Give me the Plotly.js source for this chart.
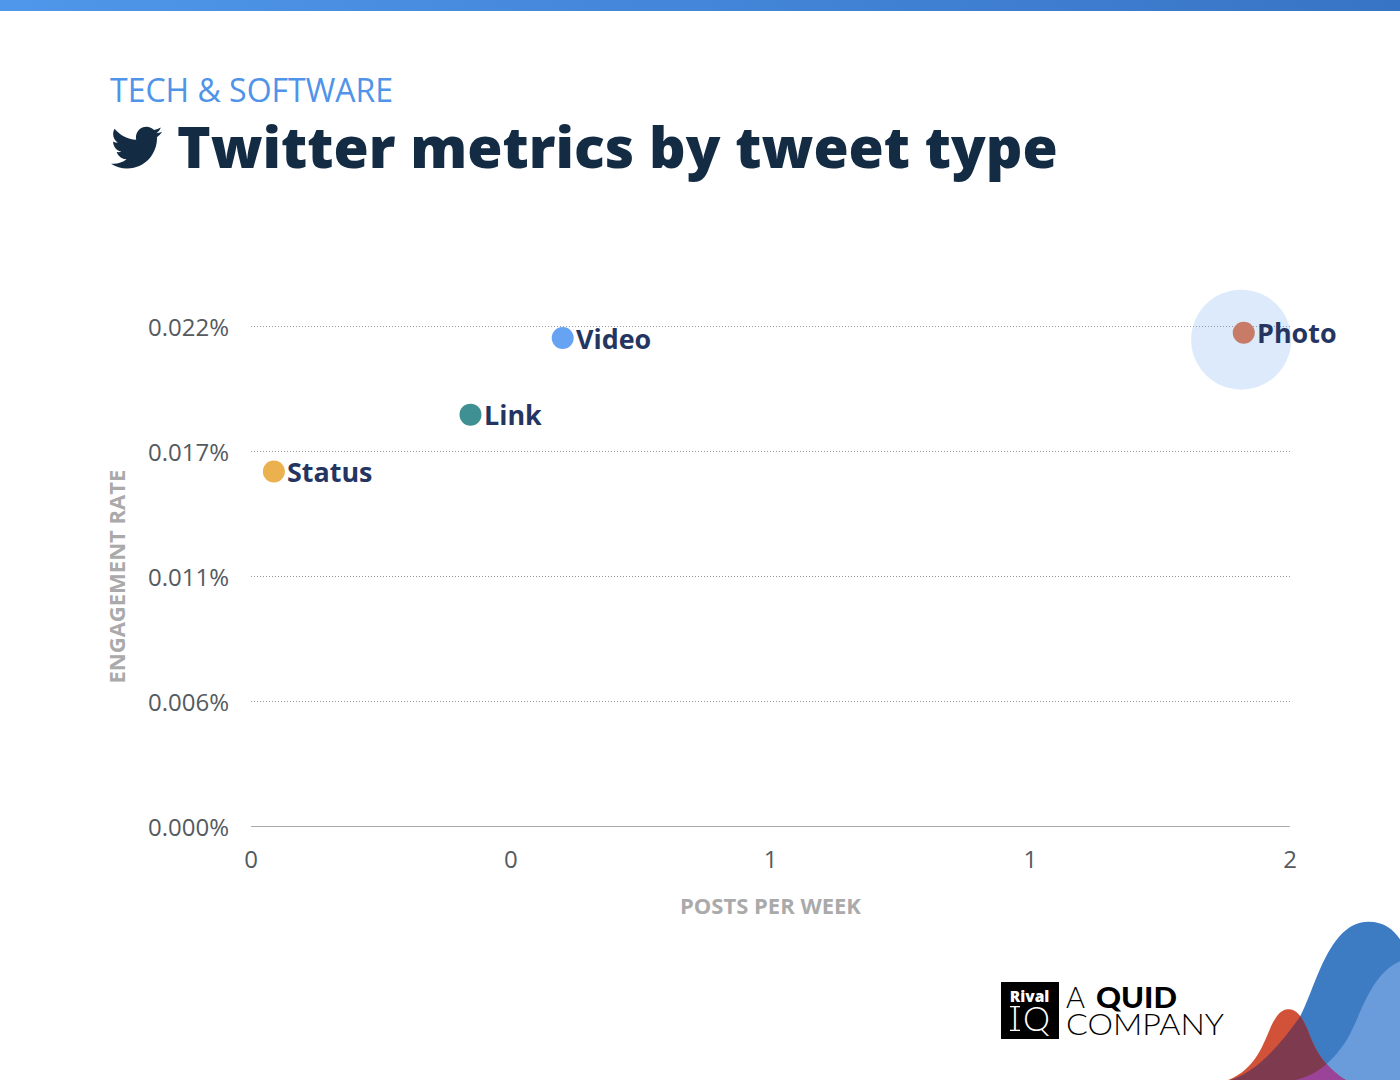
<!DOCTYPE html>
<html>
<head>
<meta charset="utf-8">
<script src="https://cdn.plot.ly/plotly-3.0.1.min.js"></script>
<style>
html,body{margin:0;padding:0;background:#fff;width:1400px;height:1080px;overflow:hidden}
#band{position:absolute;left:0;top:0;width:1400px;height:11px;background:linear-gradient(90deg,#4f97ea,#3874c6)}
#deco{position:absolute;left:0;top:0}
#chart{position:absolute;left:0;top:0;width:1400px;height:1080px}
</style>
</head>
<body>
<div id="band"></div>
<svg id="deco" width="1400" height="1080" viewBox="0 0 1400 1080">
  <defs>
    <path id="pBlue" d="M690 540C760 520 830 450 900 350C945 270 985 65 1105 65C1180 65 1200 120 1230 165L1230 540Z"/>
    <path id="pLight" d="M860 545C930 535 985 505 1040 420C1085 345 1110 215 1210 180L1230 175L1230 545Z"/>
    <path id="pRed" d="M685 540C770 505 790 430 815 375C835 335 850 328 868 328C900 328 920 380 935 420C960 480 1000 520 1045 545L685 545Z"/>
    <clipPath id="cBlue"><use href="#pBlue"/></clipPath>
    <clipPath id="cLight"><use href="#pLight"/></clipPath>
  </defs>
  <path transform="translate(111,122) scale(0.1)" fill="#132b43" d="M459.37 151.716c.325 4.548.325 9.097.325 13.645 0 138.72-105.583 298.558-298.558 298.558-59.452 0-114.68-17.219-161.137-47.106 8.447.974 16.568 1.299 25.34 1.299 49.055 0 94.213-16.568 130.274-44.832-46.132-.975-84.792-31.188-98.112-72.772 6.498.974 12.995 1.624 19.818 1.624 9.421 0 18.843-1.3 27.614-3.573-48.081-9.747-84.143-51.98-84.143-102.985v-1.299c13.969 7.797 30.214 12.67 47.431 13.319-28.264-18.843-46.781-51.005-46.781-87.391 0-19.492 5.197-37.36 14.294-52.954 51.655 63.675 129.3 105.258 216.365 109.807-1.624-7.797-2.599-15.918-2.599-24.04 0-57.828 46.782-104.934 104.934-104.934 30.213 0 57.502 12.67 76.67 33.137 23.715-4.548 46.456-13.32 66.599-25.34-7.798 24.366-24.366 44.833-46.132 57.827 21.117-2.273 41.584-8.122 60.426-16.243-14.292 20.791-32.161 39.308-52.628 54.253z"/>
  <rect x="1001" y="982" width="58" height="57" fill="#000"/>
  <text x="1029.5" y="1002" text-anchor="middle" font-family="Open Sans" font-weight="800" font-size="15.5" fill="#fff">Rival</text>
  <text x="1015" y="1031" text-anchor="middle" font-family="Lato" font-weight="300" font-size="34" fill="#fff">I</text>
  <rect x="1010" y="1006" width="10" height="1.3" fill="#fff"/>
  <rect x="1010" y="1029.7" width="10" height="1.3" fill="#fff"/>
  <text x="1023" y="1031" font-family="Lato" font-weight="300" font-size="34" fill="#fff" textLength="27" lengthAdjust="spacingAndGlyphs">Q</text>
  <text x="1066" y="1007.5" font-family="Lato" font-size="29" fill="#000" font-weight="300">A</text>
  <text x="1096" y="1007.5" font-family="Lato" font-size="29" fill="#000" font-weight="900" textLength="81" lengthAdjust="spacingAndGlyphs">QUID</text>
  <text x="1066" y="1035" font-family="Lato" font-size="29" fill="#000" font-weight="300" textLength="158" lengthAdjust="spacingAndGlyphs">COMPANY</text>
  <g transform="translate(1000,900) scale(0.33333)">
    <use href="#pBlue" fill="#3d7cc3"/>
    <use href="#pLight" fill="#6a9bdb"/>
    <use href="#pRed" fill="#d15238"/>
    <g clip-path="url(#cBlue)"><use href="#pRed" fill="#7e3b4f"/></g>
    <g clip-path="url(#cLight)"><use href="#pRed" fill="#9b4399"/></g>
  </g>
</svg>
<div id="chart"></div>
<script>
const categories = ["Status", "Link", "Video", "Photo"];
const postsPerWeek = [0.044, 0.4225, 0.6, 1.911];
const engagementRate = [0.0156, 0.0181, 0.02147, 0.0217];
const pointColors = ["#ecb14f", "#3f9092", "#66a3f2", "#c87b66"];
const haloX = [1.906];
const haloY = [0.0214];
const xTickVals = [0, 0.5, 1, 1.5, 2];
const xTickText = ["0", "0", "1", "1", "2"];
const yTickVals = [0, 0.0055, 0.011, 0.0165, 0.022];
const yTickText = ["0.000%", "0.006%", "0.011%", "0.017%", "0.022%"];

const W = 1400, H = 1080, L = 251, R = 110, T = 301, B = 254;
const px = x => (x - L) / (W - L - R);
const py = y => 1 - (y - T) / (H - T - B);

const traces = [
  {type: "scatter", mode: "markers", x: haloX, y: haloY, cliponaxis: false, hoverinfo: "skip",
   marker: {size: 100, color: "rgba(102,163,242,0.23)", line: {width: 0}}},
  {type: "scatter", mode: "markers", x: postsPerWeek, y: engagementRate,
   cliponaxis: false,
   marker: {size: 22, color: pointColors, line: {width: 0}}}
];

const labelAnnotations = categories.map((c, i) => ({
  x: postsPerWeek[i], y: engagementRate[i], xref: "x", yref: "y",
  text: c, showarrow: false, xanchor: "left", yanchor: "middle", xshift: 11.5, yshift: 0,
  font: {family: "Open Sans", size: 26.9, color: "#253561", weight: 700}
}));

const layout = {
  width: W, height: H, showlegend: false,
  margin: {l: L, r: R, t: T, b: B, pad: 0},
  paper_bgcolor: "rgba(0,0,0,0)", plot_bgcolor: "rgba(0,0,0,0)",
  font: {family: "Open Sans", color: "#555a60"},
  xaxis: {
    range: [0, 2], tickmode: "array", tickvals: xTickVals, ticktext: xTickText,
    showgrid: false, zeroline: false, showline: true, linecolor: "#aaaaaa", linewidth: 1,
    ticks: "", ticklabelstandoff: 12, tickfont: {size: 24, color: "#555a60"},
    title: {text: "POSTS PER WEEK", standoff: 24, font: {family: "Open Sans", size: 22, color: "#aaaaaa", weight: 700}}
  },
  yaxis: {
    range: [0, 0.0231], tickmode: "array", tickvals: yTickVals, ticktext: yTickText,
    showgrid: true, gridcolor: "#999999", griddash: "1px,2px", gridwidth: 1,
    zeroline: false, showline: false,
    ticks: "", ticklabelstandoff: 21, ticklabelshift: 2, tickfont: {size: 24, color: "#555a60"}
  },
  annotations: labelAnnotations.concat([
    {xref: "paper", yref: "paper", x: px(115), y: py(576.5), xanchor: "center", yanchor: "middle", showarrow: false,
     textangle: -90, text: "ENGAGEMENT RATE", font: {family: "Open Sans", size: 22, color: "#aaaaaa", weight: 700}},
    {xref: "paper", yref: "paper", x: px(108), y: py(90), xanchor: "left", yanchor: "middle", showarrow: false,
     text: "TECH &amp; SOFTWARE", font: {family: "Open Sans", size: 32, color: "#4f94e8"}},
    {xref: "paper", yref: "paper", x: px(175), y: py(146), xanchor: "left", yanchor: "middle", showarrow: false,
     text: "Twitter metrics by tweet type", font: {family: "Open Sans", size: 57, color: "#132b43", weight: 800}}
  ])
};

Plotly.newPlot("chart", traces, layout, {displayModeBar: false, staticPlot: true});
</script>
</body>
</html>
